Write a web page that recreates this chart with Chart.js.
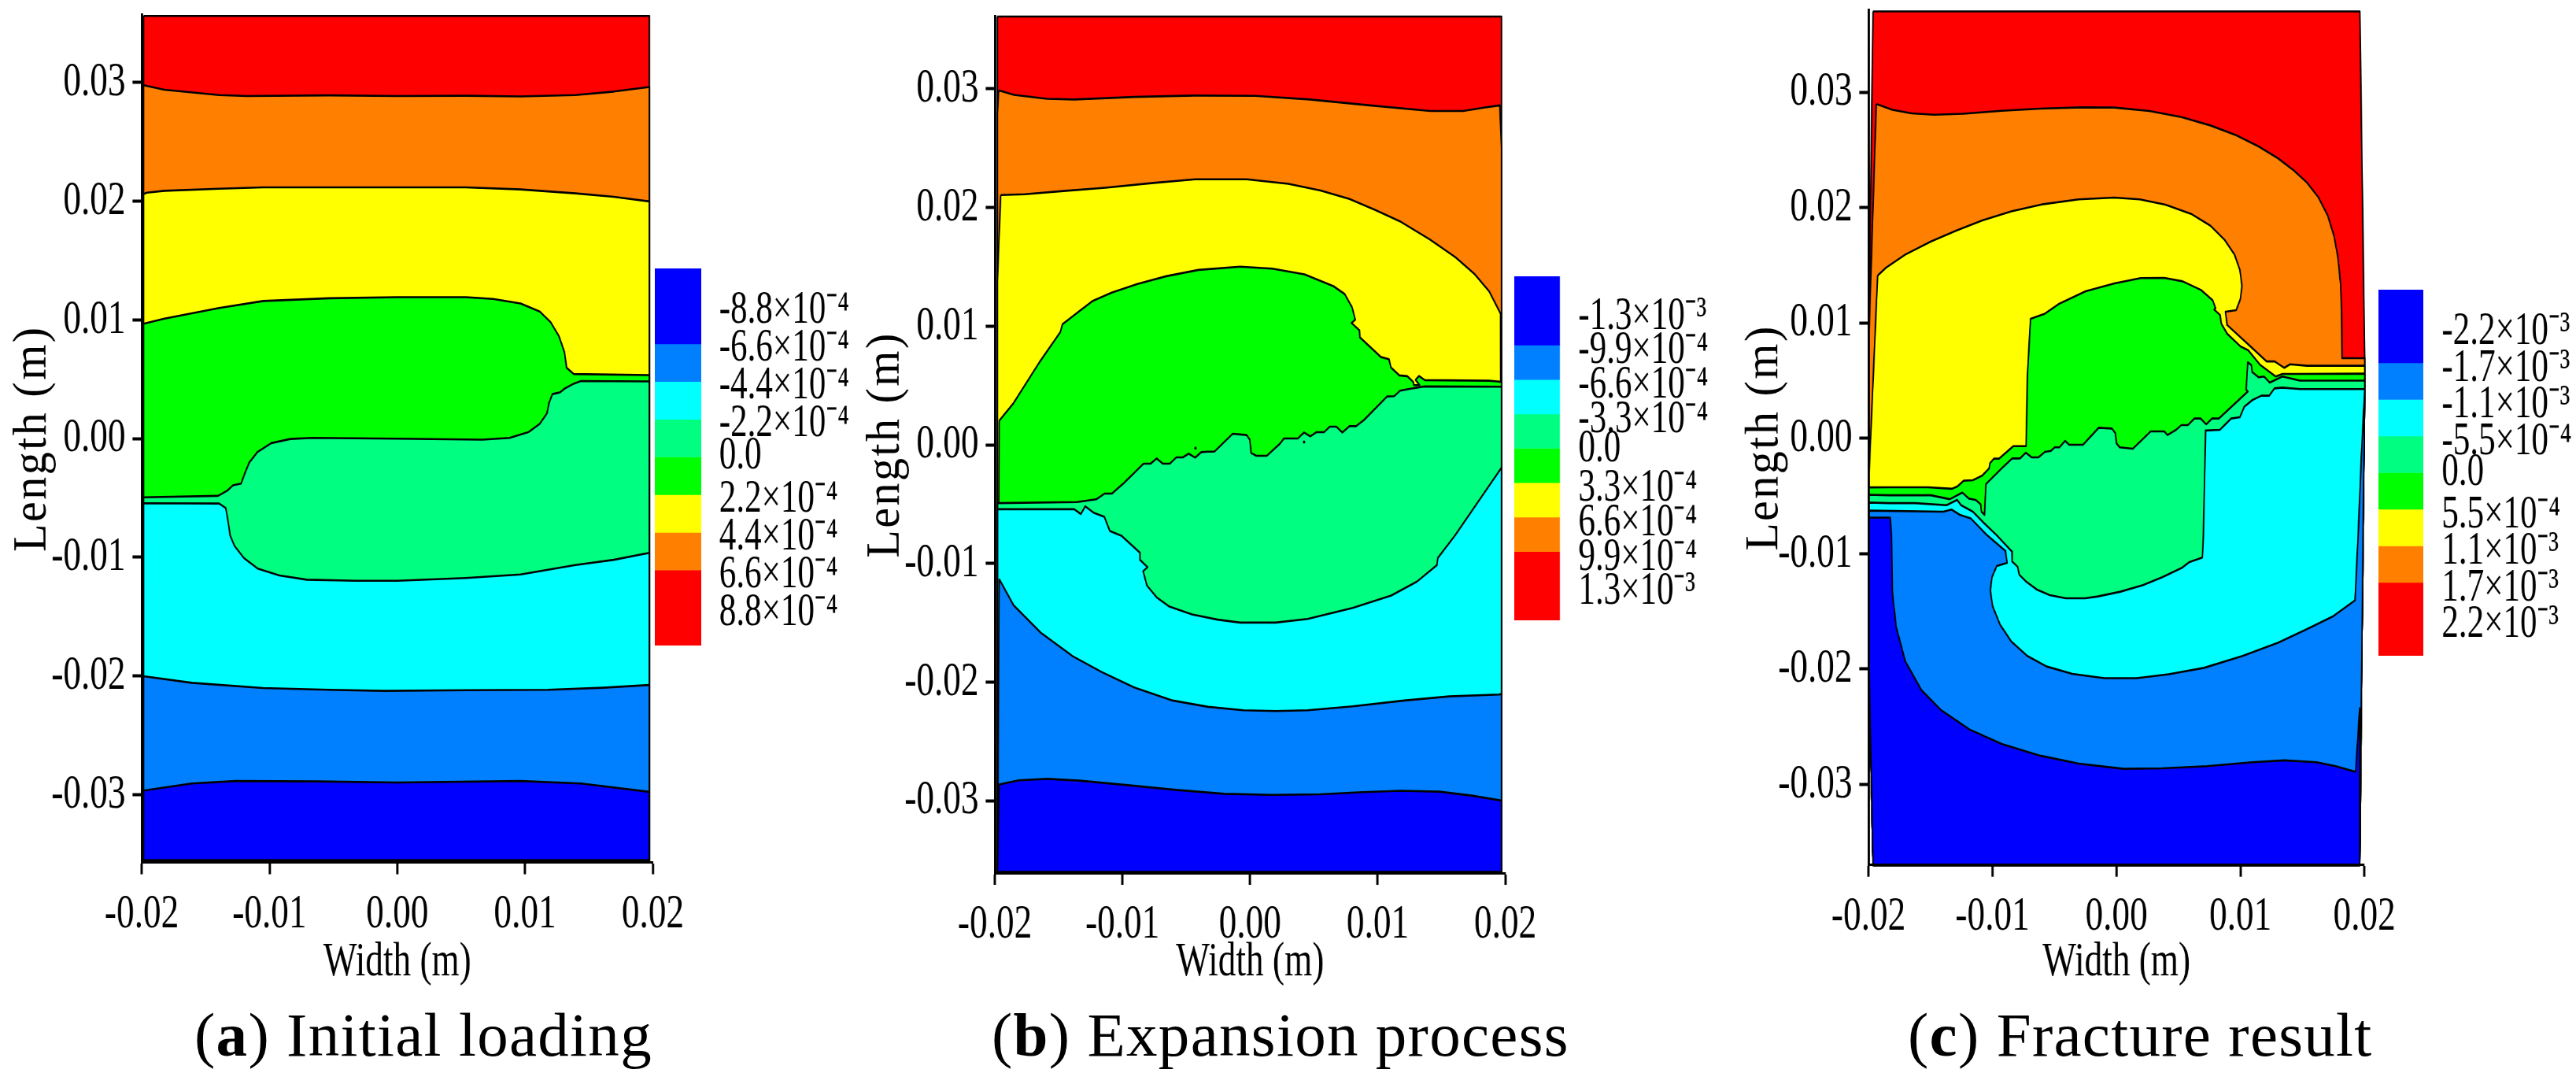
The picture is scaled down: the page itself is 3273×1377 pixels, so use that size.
<!DOCTYPE html>
<html>
<head>
<meta charset="utf-8">
<title>Contour plots</title>
<script src="https://cdn.jsdelivr.net/npm/chart.js@4/dist/chart.umd.min.js"></script>
<style>
  html, body { margin: 0; background: #fff; }
  body { position: relative; width: 3273px; height: 1377px; overflow: hidden; }
  canvas { position: absolute; transform: scaleX(0.73); transform-origin: 0 0; }
  .cap { position: absolute; font: 79px "Liberation Serif", serif; letter-spacing: 1.3px; color: #000; white-space: nowrap; line-height: 90px; }
</style>
</head>
<body>
<canvas id="plotA"></canvas><canvas id="legendA"></canvas>
<canvas id="plotB"></canvas><canvas id="legendB"></canvas>
<canvas id="plotC"></canvas><canvas id="legendC"></canvas>
<div class="cap" style="left:247px;top:1270px"><span>(<b>a</b>) Initial loading</span></div>
<div class="cap" style="left:1260px;top:1270px"><span>(<b>b</b>) Expansion process</span></div>
<div class="cap" style="left:2424px;top:1270px"><span>(<b>c</b>) Fracture result</span></div>
<script>
// contour colours, outermost (top of the plate) first
const bandColors = ['#ff0000', '#ff8000', '#ffff00', '#00ff00', '#00ff80', '#00ffff', '#0080ff', '#0000ff'];
const legendColors = bandColors.slice().reverse();
const legendBands = [2, 1, 1, 1, 1, 1, 1, 2];

const xMajor = [-0.02, -0.01, 0, 0.01, 0.02];
const xMinor = [-0.015, -0.005, 0.005, 0.015];
const yMajor = [-0.03, -0.02, -0.01, 0, 0.01, 0.02, 0.03];
const yMinor = [-0.035, -0.025, -0.015, -0.005, 0.005, 0.015, 0.025, 0.035];

const legendLabelsA = ['-8.8×10⁻⁴', '-6.6×10⁻⁴', '-4.4×10⁻⁴', '-2.2×10⁻⁴', '0.0', '2.2×10⁻⁴', '4.4×10⁻⁴', '6.6×10⁻⁴', '8.8×10⁻⁴'];
const legendLabelsB = ['-1.3×10⁻³', '-9.9×10⁻⁴', '-6.6×10⁻⁴', '-3.3×10⁻⁴', '0.0', '3.3×10⁻⁴', '6.6×10⁻⁴', '9.9×10⁻⁴', '1.3×10⁻³'];
const legendLabelsC = ['-2.2×10⁻³', '-1.7×10⁻³', '-1.1×10⁻³', '-5.5×10⁻⁴', '0.0', '5.5×10⁻⁴', '1.1×10⁻³', '1.7×10⁻³', '2.2×10⁻³'];

// contour regions, [width, length] in mm

// (a) initial loading
const aRed = [[-19.85,35.6],[19.73,35.6],[19.73,-35.5],[-19.85,-35.5]];
const aOrange = [[-19.85,29.77],[-18.22,29.38],[-13.94,28.94],[-11.79,28.85],[-5.36,28.91],[0,28.85],[5.36,28.88],[9.65,28.82],[13.94,28.94],[16.94,29.23],[19.73,29.62],[19.73,-35.5],[-19.85,-35.5]];
const aYellow = [[-19.85,20.6],[-19.6,20.72],[-18.22,20.87],[-13.94,21.05],[-10.5,21.16],[-5.36,21.16],[0,21.16],[5.36,21.16],[9.65,20.99],[13.94,20.66],[16.94,20.37],[19.73,19.98],[19.73,-35.5],[-19.85,-35.5]];
const aGreen = [[-19.85,9.67],[-18.22,10.11],[-13.94,11.0],[-10.5,11.59],[-5.36,11.82],[0,11.91],[5.36,11.91],[7.5,11.76],[9.65,11.38],[11.15,10.7],[12.0,9.81],[12.65,8.63],[13.08,7.3],[13.25,5.97],[13.81,5.44],[19.73,5.35],[19.73,-35.5],[-19.85,-35.5]];
const aSpring = [[19.73,4.82],[14.37,4.85],[13.72,4.58],[13.08,4.2],[12.74,3.9],[12.14,3.75],[11.88,3.02],[11.71,2.13],[11.15,1.24],[10.29,0.56],[8.79,0.06],[6.65,-0.09],[0,0],[-6.65,0.06],[-8.36,-0.03],[-9.86,-0.38],[-10.93,-1.12],[-11.58,-2.01],[-11.92,-2.9],[-12.22,-3.78],[-12.86,-3.93],[-13.29,-4.37],[-14.02,-4.82],[-19.85,-4.94],[-19.85,-35.5],[19.73,-35.5]];
const aCyan = [[-19.85,-5.44],[-13.94,-5.47],[-13.42,-5.85],[-13.25,-6.89],[-13.08,-8.15],[-12.74,-9.03],[-12.0,-10.06],[-10.93,-10.94],[-9.22,-11.53],[-7.08,-11.88],[-3.22,-11.97],[0,-11.97],[5.36,-11.74],[9.65,-11.44],[13.94,-10.65],[16.94,-10.21],[19.73,-9.62],[19.73,-35.5],[-19.85,-35.5]];
const aAzure = [[-19.85,-20.01],[-16.08,-20.57],[-10.51,-21.01],[-5.36,-21.16],[-1.07,-21.25],[5.36,-21.19],[11.79,-21.16],[16.08,-20.98],[19.73,-20.75],[19.73,-35.5],[-19.85,-35.5]];
const aBlue = [[-19.85,-29.64],[-16.08,-29.05],[-12.65,-28.84],[-6.22,-28.87],[0,-28.96],[9.65,-28.84],[14.37,-29.05],[19.73,-29.75],[19.73,-35.5],[-19.85,-35.5]];

// (b) expansion process
const bRed = [[-19.8,36.1],[19.7,36.1],[19.7,-36],[-19.8,-36]];
const bOrange = [[-19.7,29.88],[-18.5,29.5],[-15.92,29.17],[-13.78,29.11],[-9.06,29.32],[-4.33,29.44],[0.39,29.41],[4.68,29.11],[9.4,28.61],[14.12,28.14],[16.7,28.14],[18.41,28.43],[19.57,28.61],[19.7,25],[19.7,-36],[-19.8,-36],[-19.8,28]];
const bYellow = [[-19.54,21.05],[-17.65,21.12],[-14.62,21.39],[-11.35,21.67],[-7.57,22.07],[-4.3,22.38],[-0.27,22.38],[3.0,22.0],[5.52,21.44],[7.79,20.72],[9.81,19.79],[11.82,18.79],[14.08,17.31],[16.1,15.8],[17.61,14.37],[18.74,12.93],[19.63,11.05],[19.7,-36],[-19.8,-36],[-19.8,13.8]];
const bGreen = [[-19.66,2.02],[-18.53,3.52],[-16.51,6.95],[-14.87,9.5],[-14.7,10.16],[-13.37,11.27],[-12.36,12.11],[-10.85,12.82],[-8.83,13.55],[-6.57,14.21],[-4.05,14.74],[-0.78,15.01],[1.74,14.85],[4.26,14.37],[6.53,13.37],[7.41,12.71],[7.99,11.6],[8.24,10.54],[7.95,10.27],[8.57,9.65],[8.61,9.05],[10.26,7.39],[10.88,7.22],[11.04,6.51],[11.7,5.85],[12.32,5.78],[12.79,5.29],[12.83,5.03],[13.28,5.03],[12.97,5.47],[13.24,5.8],[13.69,5.45],[18.69,5.4],[19.2,5.36],[19.7,5.3],[19.7,-36],[-19.8,-36]];
const bSpring = [[19.7,4.89],[13.65,4.92],[12.41,4.69],[11.76,4.56],[11.29,4.1],[10.73,4.07],[8.92,2.08],[8.3,1.57],[7.79,1.57],[7.23,1.04],[6.76,1.53],[6.25,1.53],[5.79,1.06],[5.2,1.06],[4.71,0.71],[4.23,1.04],[3.74,0.53],[2.65,0.53],[2.34,0.09],[1.31,-0.93],[0.49,-0.93],[0.08,-0.69],[-0.02,0.42],[-0.27,0.82],[-1.36,0.93],[-2.8,-0.58],[-3.31,-0.58],[-3.83,-0.62],[-4.3,-1.09],[-4.81,-0.75],[-5.27,-1.06],[-5.78,-1.06],[-6.29,-1.59],[-6.85,-1.59],[-7.32,-1.15],[-7.79,-1.59],[-8.35,-1.59],[-9.89,-3.23],[-10.82,-4.11],[-11.39,-4.11],[-12.06,-4.6],[-13.56,-4.83],[-19.79,-4.92],[-19.8,-36],[19.7,-36]];
const bCyan = [[-19.79,-5.43],[-13.78,-5.43],[-13.26,-5.84],[-12.92,-5.19],[-12.27,-5.72],[-11.42,-6.08],[-10.99,-7.26],[-10.09,-7.66],[-8.63,-9.1],[-8.63,-9.7],[-8.03,-10.32],[-8.38,-10.65],[-8.08,-11.87],[-7.32,-12.86],[-6.32,-13.64],[-4.55,-14.3],[-2.54,-14.74],[-0.78,-14.99],[2.0,-14.99],[4.51,-14.68],[8.04,-13.75],[11.06,-12.71],[13.08,-11.53],[14.64,-10.14],[14.71,-9.54],[16.05,-7.66],[19.7,-1.93],[19.7,-36],[-19.8,-36]];
const bAzure = [[-19.66,-11.31],[-18.53,-13.53],[-16.39,-15.85],[-13.87,-17.84],[-11.6,-19.17],[-9.08,-20.45],[-6.06,-21.56],[-3.29,-22.09],[-0.52,-22.38],[2.0,-22.45],[4.51,-22.38],[8.04,-22.05],[12.07,-21.56],[15.6,-21.21],[19.5,-21.05],[19.7,-21],[19.7,-36],[-19.8,-36]];
const bBlue = [[-19.66,-28.64],[-18.15,-28.29],[-15.88,-28.16],[-13.37,-28.31],[-9.59,-28.69],[-5.81,-29.09],[-2.03,-29.42],[1.74,-29.51],[5.52,-29.46],[8.8,-29.28],[11.82,-29.17],[14.84,-29.24],[17.36,-29.57],[19.57,-29.97],[19.7,-30],[19.7,-36],[-19.8,-36]];
const bSpecks = [[-4.28,-0.28],[4.23,0.24]];

// (c) fracture result
const cRed = [[-19.63,37],[19.63,37],[20.02,6.91],[20.02,4.26],[19.8,-17.5],[19.62,-37],[-19.63,-37],[-20,-17.5],[-20,7.5]];
const cOrange = [[-19.37,28.97],[-18.07,28.47],[-16.52,28.16],[-14.7,28.04],[-12.37,28.13],[-9.26,28.38],[-6.15,28.57],[-2.78,28.68],[-0.19,28.66],[2.66,28.36],[5.25,27.84],[7.58,27.11],[9.65,26.27],[11.46,25.29],[13.02,24.27],[14.31,23.2],[15.35,22.17],[16.26,20.92],[17.03,19.33],[17.55,17.51],[17.86,15.69],[18.07,13.42],[18.15,11.14],[18.2,6.94],[20.02,6.94],[20.02,4.26],[19.8,-17.5],[19.62,-37],[-19.63,-37],[-20,-17.5],[-20,7.5]];
const cYellow = [[-19.26,14.1],[-18.59,14.78],[-17.03,15.92],[-14.96,17.06],[-12.89,18.01],[-10.82,18.88],[-8.48,19.67],[-5.89,20.29],[-3.04,20.7],[-0.19,20.86],[1.88,20.7],[3.95,20.24],[6.02,19.45],[7.58,18.42],[8.74,17.17],[9.52,15.92],[9.96,14.56],[10.12,13.19],[9.99,12.05],[9.65,11.1],[8.79,10.96],[8.92,9.82],[10.69,8.07],[12.11,6.66],[12.76,6.66],[13.54,6.1],[14.0,6.41],[15.35,6.28],[20.02,6.28],[20.02,4.26],[19.8,-17.5],[19.62,-37],[-19.63,-37],[-20,-17.5],[-20,-4.26]];
const cGreen = [[-20,-4.26],[-18.35,-4.25],[-15.18,-4.25],[-13.28,-4.38],[-12.81,-4.16],[-12.32,-3.68],[-11.58,-3.64],[-10.84,-3.25],[-10.27,-2.61],[-10.2,-2.16],[-9.89,-1.77],[-9.47,-1.77],[-8.31,-0.68],[-7.29,-0.68],[-7.18,5.46],[-6.93,10.35],[-5.77,10.8],[-4.6,11.67],[-2.49,12.74],[-0.16,13.42],[1.95,13.88],[3.86,13.9],[5.34,13.6],[6.82,12.85],[7.77,11.94],[7.99,11.26],[7.88,11.15],[8.35,10.69],[8.47,9.9],[8.94,9.05],[10.0,7.96],[10.63,7.62],[11.58,6.37],[12.85,5.35],[13.38,5.57],[14.58,5.57],[20.02,5.6],[20.02,4.26],[19.8,-17.5],[19.62,-37],[-19.63,-37],[-20,-17.5]];
const cSpring = [[-20,-4.9],[-18.35,-4.94],[-14.97,-4.94],[-13.44,-5.28],[-12.43,-4.71],[-11.9,-5.23],[-11.37,-5.34],[-10.95,-5.73],[-10.89,-6.37],[-10.64,-6.64],[-10.53,-3.98],[-9.26,-2.61],[-8.41,-1.75],[-7.78,-1.75],[-7.31,-1.25],[-6.82,-1.66],[-6.3,-1.66],[-5.77,-1.18],[-5.28,-1.09],[-4.98,-0.79],[-4.6,-0.79],[-4.14,-0.23],[-3.8,-0.57],[-2.7,-0.57],[-1.43,0.91],[-0.37,0.84],[-0.1,0.46],[0.01,-0.45],[0.26,-0.79],[1.32,-0.91],[2.76,0.59],[3.86,0.59],[4.11,0.28],[4.81,0.73],[5.23,1.14],[5.76,1.14],[6.29,1.71],[6.78,1.71],[7.24,1.21],[7.71,1.71],[8.26,1.71],[10.59,4.05],[10.46,4.21],[10.59,6.6],[10.88,6.33],[10.95,5.73],[11.47,5.28],[11.9,5.35],[12.36,4.82],[13.38,5.35],[14.8,5.0],[20.02,5.0],[20.02,4.26],[19.8,-17.5],[19.62,-37],[-19.63,-37],[-20,-17.5]];
const cCyan = [[-20,-5.57],[-18.35,-5.62],[-16.24,-5.62],[-13.7,-5.8],[-12.85,-5.34],[-12.53,-5.8],[-11.58,-6.37],[-10.64,-7.4],[-9.65,-8.41],[-8.87,-9.32],[-8.43,-9.82],[-8.41,-10.68],[-7.97,-11.14],[-7.84,-11.82],[-7.32,-12.39],[-6.41,-13.12],[-5.38,-13.6],[-4.08,-13.87],[-2.53,-13.87],[-1.49,-13.71],[0.32,-13.3],[2.14,-12.73],[3.69,-12.05],[5.25,-11.25],[5.89,-10.73],[6.93,-10.34],[7.01,-8.41],[7.19,0.67],[8.34,0.73],[9.25,1.71],[9.95,1.82],[10.31,2.73],[10.95,3.3],[11.69,3.69],[12.32,3.69],[12.74,4.32],[13.38,4.39],[14.8,4.26],[20.02,4.26],[19.8,-17.5],[19.62,-37],[-19.63,-37],[-20,-17.5]];
const cAzure = [[-20,-6.27],[-13.96,-6.37],[-13.3,-6.18],[-12.63,-6.64],[-11.75,-6.94],[-10.43,-8.41],[-8.95,-9.77],[-8.82,-10.8],[-9.65,-11.07],[-10.04,-12.05],[-10.17,-13.19],[-9.99,-14.55],[-9.39,-16.14],[-8.48,-17.62],[-7.19,-18.87],[-5.63,-19.78],[-3.56,-20.42],[-0.97,-20.8],[1.62,-20.8],[4.21,-20.46],[7.06,-19.9],[10.17,-18.87],[13.02,-17.73],[15.35,-16.55],[17.42,-15.46],[19.24,-14.05],[19.49,-8.41],[19.75,-1.6],[20.02,4.26],[19.8,-17.5],[19.62,-37],[-19.63,-37],[-20,-17.5]];
const cBlue = [[-20,-6.88],[-18.25,-6.88],[-18.14,-8.41],[-18.07,-13.41],[-17.76,-16.37],[-17.03,-19.33],[-15.73,-21.83],[-14.18,-23.53],[-11.85,-25.24],[-9.26,-26.49],[-6.15,-27.51],[-3.04,-28.2],[0.58,-28.65],[3.69,-28.61],[7.32,-28.42],[10.95,-28.08],[13.54,-27.92],[16.13,-28.08],[17.68,-28.42],[19.29,-28.92],[19.62,-23.4],[19.62,-37],[-19.63,-37],[-20,-17.5]];

const SX = 0.73; // the whole figure was squeezed horizontally, canvases are scaled back with CSS

function toMetres(pts) {
  return pts.map(p => ({ x: p[0] / 1000, y: p[1] / 1000 }));
}

function noPad(scale) {
  scale.paddingLeft = scale.paddingRight = scale.paddingTop = scale.paddingBottom = 0;
}

function regionDatasets(regions) {
  // first dataset is drawn last, so put the outer regions at the end
  return regions.map((pts, i) => ({
    data: toMetres(pts.concat([pts[0]])),
    showLine: true,
    fill: 'shape',
    backgroundColor: bandColors[i],
    borderColor: '#000',
    borderWidth: 2.6,
    borderJoinStyle: 'round',
    pointRadius: 0,
    tension: 0,
    clip: false
  })).reverse();
}

// y title is wider and more open than the tick text
const spaceTitle = {
  id: 'spaceTitle',
  afterLayout(chart) {
    const y = chart.scales.y;
    if (y.spaced) return;
    const orig = y.drawTitle;
    const tx = 34.8 + y.options.title.padding.top;
    y.drawTitle = function () {
      const ctx = this.ctx;
      ctx.save();
      ctx.letterSpacing = '2.5px';
      ctx.translate(tx, 0);
      ctx.scale(1.42, 1);
      ctx.translate(-tx, 0);
      orig.call(this);
      ctx.restore();
    };
    y.spaced = true;
  }
};

function plotChart(id, box, regions, extra) {
  const el = document.getElementById(id);
  const left = box.left - 180;
  const W = Math.round((box.right + 50 - left) / SX);
  const H = 1262;
  const areaL = (box.left - left) / SX;
  const areaR = (box.right - left) / SX;
  el.width = W;
  el.height = H;
  el.style.left = left + 'px';
  el.style.top = '0px';
  const datasets = (extra || []).concat(regionDatasets(regions));
  return new Chart(el, {
    type: 'scatter',
    data: { datasets },
    plugins: [spaceTitle],
    options: {
      responsive: false,
      animation: false,
      events: [],
      layout: { padding: { left: 0, top: box.top, right: W - areaR, bottom: 0 } },
      plugins: { legend: { display: false }, tooltip: { enabled: false } },
      scales: {
        x: {
          type: 'linear', position: 'bottom', min: -0.02, max: 0.02,
          afterBuildTicks: a => { a.ticks = xMajor.map(v => ({ value: v })); },
          afterFit: s => { s.height = H - box.bottom; noPad(s); },
          border: { color: '#000', width: 3, z: 1 },
          grid: { drawOnChartArea: false, color: '#000', tickLength: 15, tickWidth: 4 },
          ticks: {
            color: '#000', padding: box.xPad, maxRotation: 0, minRotation: 0, autoSkip: false,
            font: { family: 'Liberation Serif', size: 62 },
            callback: v => v.toFixed(2)
          },
          title: {
            display: true, text: 'Width (m)', color: '#000', padding: { top: 0, bottom: box.xTitlePad },
            font: { family: 'Liberation Serif', size: 62 }
          }
        },
        xm: {
          axis: 'x', type: 'linear', position: 'bottom', min: -0.02, max: 0.02,
          afterBuildTicks: a => { a.ticks = xMinor.map(v => ({ value: v })); },
          afterFit: s => { s.height = 0; noPad(s); },
          border: { display: false },
          grid: { drawOnChartArea: false, color: '#000', tickLength: 8, tickWidth: 4 },
          ticks: { display: false }
        },
        y: {
          type: 'linear', position: 'left', min: box.yMin, max: box.yMax,
          afterBuildTicks: a => { a.ticks = yMajor.map(v => ({ value: v })); },
          afterFit: s => { s.width = areaL; noPad(s); },
          border: { color: '#000', width: 4, z: 1 },
          grid: { drawOnChartArea: false, color: '#000', tickLength: 16, tickWidth: 4 },
          ticks: {
            color: '#000', padding: 12, autoSkip: false,
            font: { family: 'Liberation Serif', size: 62 },
            callback: v => v.toFixed(2)
          },
          title: {
            display: true, text: 'Length (m)', color: '#000', padding: { top: box.yTitlePad, bottom: 0 },
            font: { family: 'Liberation Serif', size: 58 }
          }
        },
        ym: {
          axis: 'y', type: 'linear', position: 'left', min: box.yMin, max: box.yMax,
          afterBuildTicks: a => { a.ticks = yMinor.map(v => ({ value: v })); },
          afterFit: s => { s.width = 0; noPad(s); },
          border: { display: false },
          grid: { drawOnChartArea: false, color: '#000', tickLength: 7, tickWidth: 4 },
          ticks: { display: false }
        }
      }
    }
  });
}

function legendChart(id, box, labels) {
  const el = document.getElementById(id);
  const W = Math.round(250 / SX);
  const H = box.bottom - box.top;
  const barW = (box.right - box.left) / SX;
  el.width = W;
  el.height = H;
  el.style.left = box.left + 'px';
  el.style.top = box.top + 'px';
  return new Chart(el, {
    type: 'bar',
    data: {
      labels: [''],
      datasets: legendBands.map((v, i) => ({
        data: [v], backgroundColor: legendColors[i], barPercentage: 1, categoryPercentage: 1, borderWidth: 0
      }))
    },
    options: {
      responsive: false,
      animation: false,
      events: [],
      layout: { padding: 0 },
      plugins: { legend: { display: false }, tooltip: { enabled: false } },
      scales: {
        x: { display: false, stacked: true },
        y: {
          position: 'right', stacked: true, reverse: true, min: 0, max: 10,
          afterBuildTicks: a => { a.ticks = labels.map((t, i) => ({ value: box.labelStart + i - (i === 4 ? 0.15 : 0) })); },
          afterFit: s => { s.width = W - barW; noPad(s); },
          border: { display: false },
          grid: { display: false },
          ticks: {
            color: '#000', padding: box.labelPad, autoSkip: false,
            font: { family: 'Liberation Serif', size: 59 },
            callback: (v, i) => labels[i]
          }
        }
      }
    }
  });
}

plotChart('plotA', { left: 179.5, right: 829, top: 18.75, bottom: 1095.6, yMin: -0.0357, yMax: 0.0357, xPad: 14, xTitlePad: 2, yTitlePad: 23 },
  [aRed, aOrange, aYellow, aGreen, aSpring, aCyan, aAzure, aBlue]);
plotChart('plotB', { left: 1264.4, right: 1913, top: 21, bottom: 1109, yMin: -0.0361, yMax: 0.0361, xPad: 14, xTitlePad: 2, yTitlePad: 23 },
  [bRed, bOrange, bYellow, bGreen, bSpring, bCyan, bAzure, bBlue],
  [{ data: toMetres(bSpecks), pointRadius: 2, pointBackgroundColor: '#000', pointBorderWidth: 0, showLine: false }]);
plotChart('plotC', { left: 2373.8, right: 3004, top: 13.4, bottom: 1098.7, yMin: -0.03698, yMax: 0.03707, xPad: 14, xTitlePad: 2, yTitlePad: 32 },
  [cRed, cOrange, cYellow, cGreen, cSpring, cCyan, cAzure, cBlue]);

legendChart('legendA', { left: 832.3, right: 891.4, top: 341, bottom: 820, labelStart: 1.125, labelPad: 23 }, legendLabelsA);
legendChart('legendB', { left: 1924, right: 1982, top: 351, bottom: 788, labelStart: 1.17, labelPad: 24 }, legendLabelsB);
legendChart('legendC', { left: 3022, right: 3079, top: 368, bottom: 833, labelStart: 1.16, labelPad: 24 }, legendLabelsC);
</script>
</body>
</html>
